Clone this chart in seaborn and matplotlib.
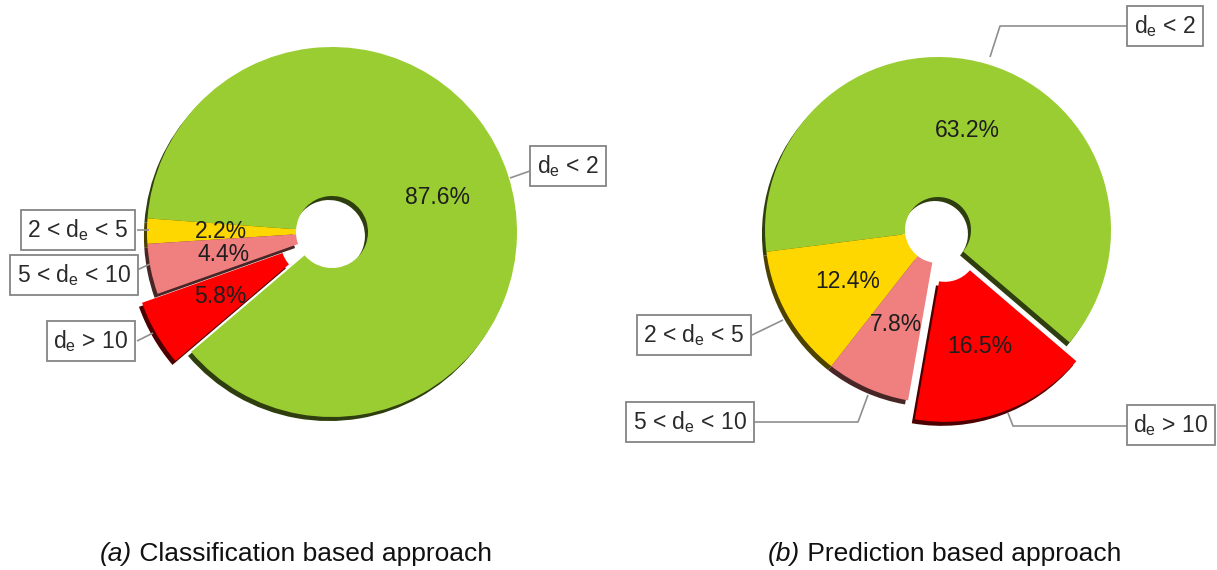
import matplotlib
matplotlib.use("Agg")
import matplotlib.pyplot as plt
import seaborn as sns

# Error-distance classes and their shares (percent)
label_text = [r"d$_{\rm e}$ < 2", r"2 < d$_{\rm e}$ < 5",
              r"5 < d$_{\rm e}$ < 10", r"d$_{\rm e}$ > 10"]
classification_pct = [87.6, 2.2, 4.4, 5.8]
prediction_pct = [63.2, 12.4, 7.8, 16.5]
slice_colors = ["#9ACD32", "#FFD700", "#F08080", "#FF0000"]
caption_tags = ["(a)", "(b)"]
caption_text = ["Classification based approach", "Prediction based approach"]

sns.set_theme(style="white")
plt.rcParams["font.family"] = ["Liberation Sans", "DejaVu Sans"]
plt.rcParams["mathtext.fontset"] = "custom"
plt.rcParams["mathtext.rm"] = "Liberation Sans"
plt.rcParams["mathtext.it"] = "Liberation Sans:italic"
plt.rcParams["mathtext.bf"] = "Liberation Sans:bold"

W, H = 1217, 570
fig = plt.figure(figsize=(W / 100, H / 100), dpi=100)
ax = fig.add_axes([0, 0, 1, 1])

BOX = dict(boxstyle="square,pad=0.3", fc="white", ec="#858585", lw=1.3)
LINE = dict(color="#8f8f8f", lw=1.2, solid_capstyle="butt")


def donut(values, center, radius, hole, start, explode_px):
    vals = iter(values)
    # y runs downward here, so the shadow's positive oy drops it below the ring
    ax.pie(values, colors=slice_colors, center=center, radius=radius,
           startangle=-start, counterclock=False,
           explode=[0, 0, 0, explode_px],
           wedgeprops=dict(width=radius - hole, linewidth=0),
           shadow=dict(ox=-2.2, oy=2.9, shade=0.7, alpha=1),
           autopct=lambda p: f"{next(vals):.1f}%", pctdistance=0.6,
           textprops=dict(fontsize=16.5, color="#1e1e1e"))


def callout(text, pos, path):
    xs, ys = zip(*path)
    ax.plot(xs, ys, **LINE, zorder=3)
    ax.text(*pos, text, ha="center", va="center", fontsize=16.5,
            color="#2a2a2a", bbox=BOX, zorder=4)


# (a) classification based approach
donut(classification_pct, (332, 232), 185, 36, 220.4, 18)
callout(label_text[0], (568, 166), [(510, 178), (530, 171)])
callout(label_text[1], (78, 230), [(137, 230), (149, 230)])
callout(label_text[2], (74, 275), [(137, 270), (150, 264)])
callout(label_text[3], (91, 341), [(137, 341), (153, 333)])

# (b) prediction based approach
donut(prediction_pct, (938, 230), 173, 33, -40.5, 20)
callout(label_text[0], (1165, 26), [(990, 57), (1000, 26), (1128, 26)])
callout(label_text[1], (694, 335), [(752, 335), (783, 320)])
callout(label_text[2], (690, 422), [(750, 422), (858, 422), (868, 395)])
callout(label_text[3], (1171, 425), [(1128, 426), (1013, 426), (1008, 413)])

# captions: italic tag followed by the regular description
for x, tag, txt in zip([100, 768], caption_tags, caption_text):
    t = ax.text(x, 561, tag, ha="left", va="baseline", fontsize=19,
                style="italic", color="#111111")
    ax.annotate(" " + txt, xy=(1, 0), xycoords=t, ha="left", va="bottom",
                fontsize=19, color="#111111")

ax.set_xlim(0, W)
ax.set_ylim(H, 0)
ax.set_aspect("equal")
ax.axis("off")

fig.savefig("out.png", dpi=100, facecolor="white")
